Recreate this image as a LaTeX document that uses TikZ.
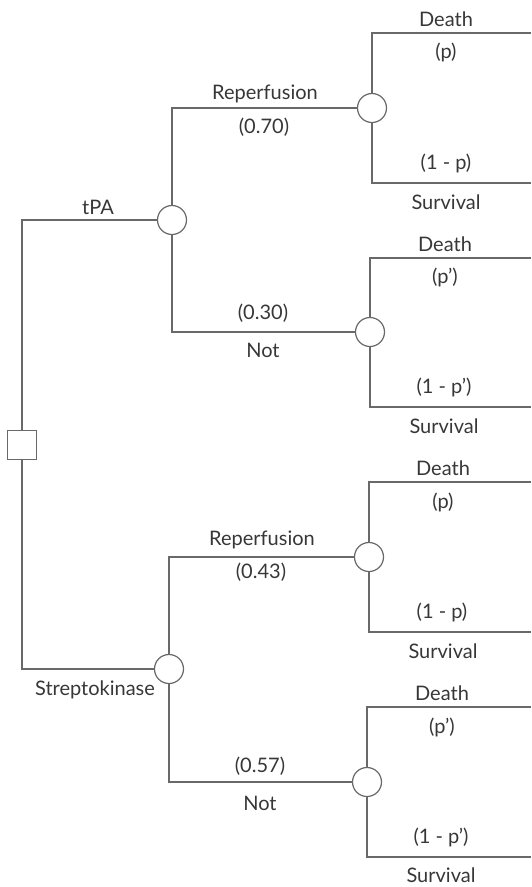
\documentclass[tikz,border=0pt]{standalone}
\usepackage{fontspec}
\setmainfont{Lato}
\definecolor{linegray}{RGB}{105,105,105}
\definecolor{textgray}{RGB}{55,55,55}
\begin{document}
\begin{tikzpicture}[x=1pt,y=-1pt,
  branch/.style={draw=linegray, line width=1.2pt},
  chance/.style={circle, draw=linegray, line width=1.2pt, fill=white, minimum size=29pt, inner sep=0pt},
  decision/.style={rectangle, draw=linegray, line width=1.2pt, fill=white, minimum size=29pt, inner sep=0pt},
  lbl/.style={text=textgray, font=\fontsize{20}{24}\selectfont, inner sep=0pt}]
\path[use as bounding box] (0,0) rectangle (531,887);

% decision and chance nodes
\node[decision] (d) at (22,445) {};
\node[chance] (c1) at (172,220) {};
\node[chance] (c2) at (169,669) {};
\node[chance] (c11) at (372,108) {};
\node[chance] (c12) at (370,332) {};
\node[chance] (c21) at (369,557) {};
\node[chance] (c22) at (367,782) {};

% terminal ends of the outcome branches
\coordinate (e11a) at (531,33);
\coordinate (e11b) at (531,183);
\coordinate (e12a) at (531,258);
\coordinate (e12b) at (531,407);
\coordinate (e21a) at (531,482);
\coordinate (e21b) at (531,632);
\coordinate (e22a) at (531,707);
\coordinate (e22b) at (531,857);

% branches
\draw[branch] (d.north) |- (c1.west);
\draw[branch] (d.south) |- (c2.west);
\draw[branch] (c1.north) |- (c11.west);
\draw[branch] (c1.south) |- (c12.west);
\draw[branch] (c2.north) |- (c21.west);
\draw[branch] (c2.south) |- (c22.west);
\draw[branch] (c11.north) |- (e11a);
\draw[branch] (c11.south) |- (e11b);
\draw[branch] (c12.north) |- (e12a);
\draw[branch] (c12.south) |- (e12b);
\draw[branch] (c21.north) |- (e21a);
\draw[branch] (c21.south) |- (e21b);
\draw[branch] (c22.north) |- (e22a);
\draw[branch] (c22.south) |- (e22b);

% treatment labels
\node[lbl] (ltpa) at (98,207) {tPA};
\node[lbl] (lsk) at (95,690) {Streptokinase};

% reperfusion labels
\node[lbl] (lr1) at (265,94) {Reperfusion};
\node[lbl] (pr1) at (264,127) {(0.70)};
\node[lbl] (pn1) at (263,313) {(0.30)};
\node[lbl] (ln1) at (263,350) {Not};
\node[lbl] (lr2) at (262,540) {Reperfusion};
\node[lbl] (pr2) at (261,572) {(0.43)};
\node[lbl] (pn2) at (260,766) {(0.57)};
\node[lbl] (ln2) at (260,803) {Not};

% outcome labels
\node[lbl] (dt1) at (446,19) {Death};
\node[lbl] (pd1) at (446,52) {(p)};
\node[lbl] (ps1) at (446,163) {(1 - p)};
\node[lbl] (sv1) at (446,202) {Survival};
\node[lbl] (dt2) at (445,244) {Death};
\node[lbl] (pd2) at (445,277) {(p')};
\node[lbl] (ps2) at (444,387) {(1 - p')};
\node[lbl] (sv2) at (444,426) {Survival};
\node[lbl] (dt3) at (443,468) {Death};
\node[lbl] (pd3) at (443,502) {(p)};
\node[lbl] (ps3) at (442,612) {(1 - p)};
\node[lbl] (sv3) at (443,651) {Survival};
\node[lbl] (dt4) at (442,693) {Death};
\node[lbl] (pd4) at (442,727) {(p')};
\node[lbl] (ps4) at (441,837) {(1 - p')};
\node[lbl] (sv4) at (441,875) {Survival};
\end{tikzpicture}
\end{document}
